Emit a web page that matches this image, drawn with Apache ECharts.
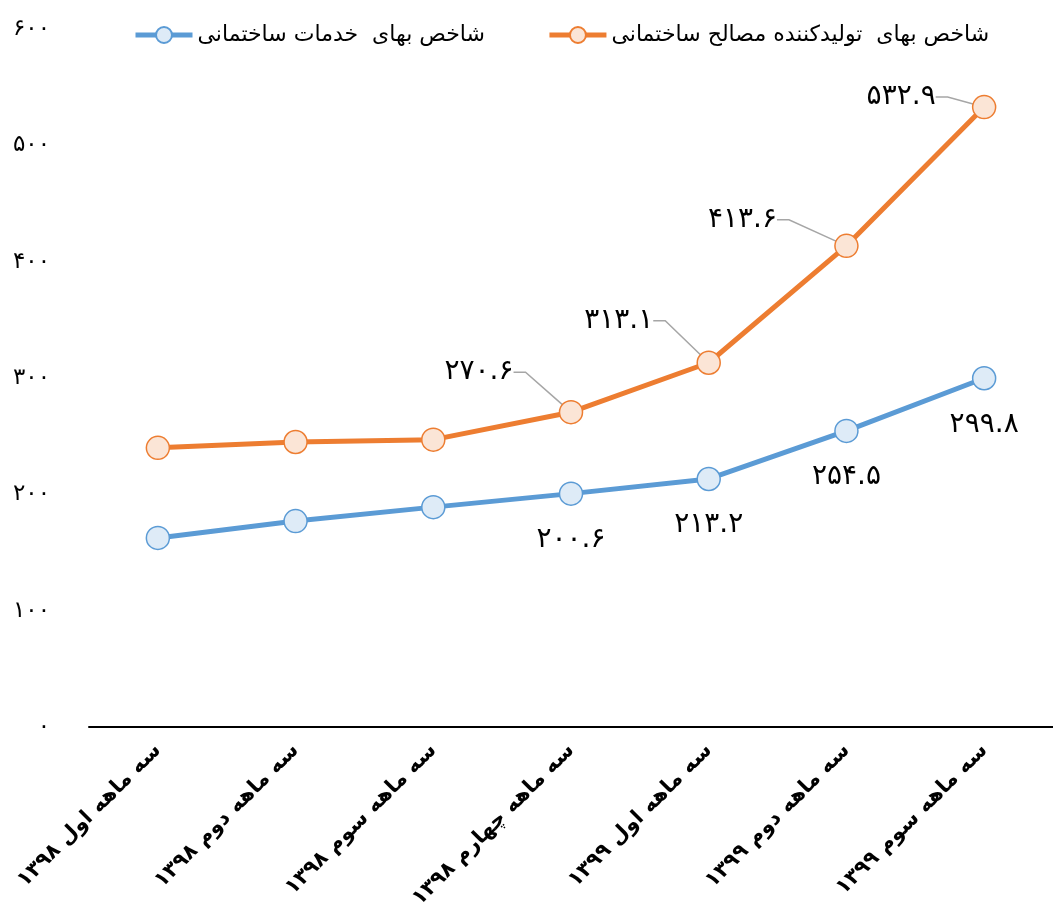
<!DOCTYPE html>
<html>
<head>
<meta charset="utf-8">
<script src="https://cdn.jsdelivr.net/npm/echarts@6/dist/echarts.min.js"></script>
<style>
html,body{margin:0;padding:0;background:#fff;}
#chart{width:1053px;height:921px;}
</style>
</head>
<body>
<div id="chart" dir="rtl"></div>
<script>
const categories = [
  'سه ماهه اول ۱۳۹۸',
  'سه ماهه دوم ۱۳۹۸',
  'سه ماهه سوم ۱۳۹۸',
  'سه ماهه چهارم ۱۳۹۸',
  'سه ماهه اول ۱۳۹۹',
  'سه ماهه دوم ۱۳۹۹',
  'سه ماهه سوم ۱۳۹۹'
];
const orangeName = 'شاخص بهای  تولیدکننده مصالح ساختمانی';
const blueName = 'شاخص بهای  خدمات ساختمانی';
const orangeValues = [240, 245, 247, 270.6, 313.1, 413.6, 532.9];
const blueValues = [162.5, 177, 189, 200.6, 213.2, 254.5, 299.8];
const labeledIndices = [3, 4, 5, 6];
const yTicks = [0, 100, 200, 300, 400, 500, 600];

const faDigits = '۰۱۲۳۴۵۶۷۸۹';
function toFa(s) { return String(s).replace(/[0-9]/g, d => faDigits[+d]); }

// label offsets (styling)
const orangeShift = {3: [-92, -40], 4: [-90, -42], 5: [-104, -26], 6: [-83, -10]};

function buildData(values) {
  return values.map((v, i) => labeledIndices.includes(i) ? v : {value: v, label: {show: false}, labelLine: {show: false}});
}

const chart = echarts.init(document.getElementById('chart'), null, {renderer: 'canvas'});
const FONT = 'DejaVu Sans';
chart.setOption({
  animation: false,
  backgroundColor: '#ffffff',
  textStyle: {fontFamily: FONT},
  legend: {
    data: [blueName, orangeName],
    left: 128,
    top: 19,
    itemWidth: 57,
    itemHeight: 20,
    itemGap: 62,
    lineStyle: {width: 5},
    textStyle: {fontSize: 22, color: '#000', fontFamily: FONT}
  },
  grid: {left: 89, right: -5, top: 29, bottom: 194},
  xAxis: {
    type: 'category',
    data: categories,
    boundaryGap: true,
    axisLine: {show: true, lineStyle: {color: '#000', width: 2}},
    axisTick: {show: false},
    splitLine: {show: false},
    axisLabel: {
      interval: 0,
      rotate: 45,
      margin: 20,
      fontSize: 21,
      fontWeight: 'bold',
      color: '#000',
      fontFamily: FONT
    }
  },
  yAxis: {
    type: 'value',
    min: yTicks[0],
    max: yTicks[yTicks.length - 1],
    interval: 100,
    axisLine: {show: false},
    axisTick: {show: false},
    splitLine: {show: false},
    axisLabel: {
      margin: 39,
      fontSize: 23,
      color: '#000',
      fontFamily: FONT,
      padding: [0, 0, 14, 0],
      formatter: v => toFa(v)
    }
  },
  series: [
    {
      name: blueName,
      type: 'line',
      data: buildData(blueValues),
      symbol: 'circle',
      symbolSize: 23,
      lineStyle: {color: '#5B9BD5', width: 5},
      itemStyle: {color: '#DEEBF7', borderColor: '#5B9BD5', borderWidth: 1.5},
      label: {
        show: true,
        position: 'inside',
        offset: [0, 46],
        fontSize: 28,
        color: '#000',
        fontFamily: FONT,
        formatter: p => toFa(p.value.toFixed(1))
      }
    },
    {
      name: orangeName,
      type: 'line',
      data: buildData(orangeValues),
      symbol: 'circle',
      symbolSize: 23,
      lineStyle: {color: '#ED7D31', width: 5},
      itemStyle: {color: '#FBE5D6', borderColor: '#ED7D31', borderWidth: 1.5},
      label: {
        show: true,
        position: 'inside',
        fontSize: 28,
        color: '#000',
        fontFamily: FONT,
        formatter: p => toFa(p.value.toFixed(1))
      },
      labelLine: {show: true, length2: 12, lineStyle: {color: '#A6A6A6', width: 1.5}},
      labelLayout: function (params) {
        const s = orangeShift[params.dataIndex];
        return s ? {dx: s[0], dy: s[1]} : {};
      }
    }
  ]
});
</script>
</body>
</html>
